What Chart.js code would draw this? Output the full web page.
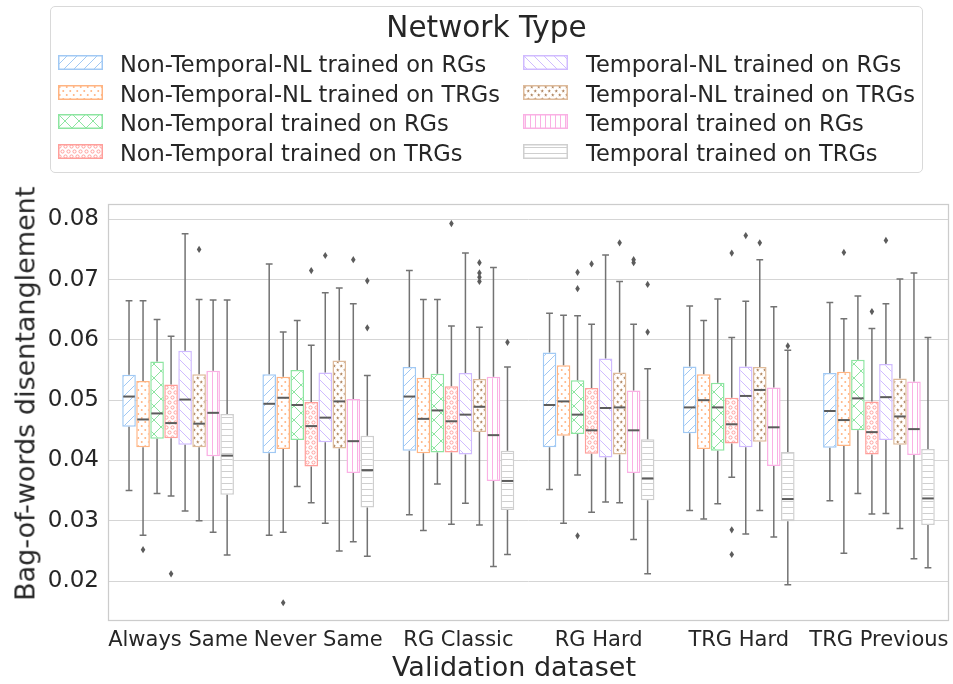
<!DOCTYPE html>
<html>
<head>
<meta charset="utf-8">
<script src="https://cdn.jsdelivr.net/npm/chart.js@4.4.1/dist/chart.umd.min.js"></script>
<style>
  html, body { margin: 0; padding: 0; background: #fff; }
  #wrap { position: relative; width: 953px; height: 684px; font-family: 'DejaVu Sans', sans-serif; color: #262626; overflow: hidden; }
  #chart { position: absolute; left: 0; top: 0; }
  #legendFrame { position: absolute; left: 50px; top: 6px; width: 873px; height: 167px; box-sizing: border-box;
                 border: 1px solid #d9d9d9; border-radius: 5px; background: #fff; }
  .lg { position: absolute; white-space: nowrap; }
  .sw { position: absolute; }
  .axisTitle { position: absolute; white-space: nowrap; font-size: 27px; line-height: 31.4px; }
</style>
</head>
<body>
<div id="wrap">
  <canvas id="chart" width="953" height="684"></canvas>
  <div id="legendFrame"></div>
  <div class="axisTitle" id="xTitle" style="left:392px; top:651px;">Validation dataset</div>
  <div class="axisTitle" id="yTitle">Bag-of-words disentanglement</div>
</div>
<script>
// Validation datasets (x categories)
const categories = ['Always Same', 'Never Same', 'RG Classic', 'RG Hard', 'TRG Hard', 'TRG Previous'];

// Network types (one box per category each)
const seriesNames = [
  'Non-Temporal-NL trained on RGs',
  'Non-Temporal-NL trained on TRGs',
  'Non-Temporal trained on RGs',
  'Non-Temporal trained on TRGs',
  'Temporal-NL trained on RGs',
  'Temporal-NL trained on TRGs',
  'Temporal trained on RGs',
  'Temporal trained on TRGs'
];

// Box statistics, indexed [network type][validation dataset]
const whiskerLow = [
  [0.0350, 0.0276, 0.0310, 0.0352, 0.0317, 0.0333],
  [0.0276, 0.0281, 0.0284, 0.0296, 0.0303, 0.0246],
  [0.0345, 0.0357, 0.0361, 0.0376, 0.0328, 0.0345],
  [0.0341, 0.0330, 0.0294, 0.0314, 0.0372, 0.0311],
  [0.0316, 0.0296, 0.0329, 0.0331, 0.0278, 0.0312],
  [0.0300, 0.0250, 0.0293, 0.0330, 0.0317, 0.0287],
  [0.0281, 0.0265, 0.0224, 0.0269, 0.0273, 0.0237],
  [0.0243, 0.0241, 0.0244, 0.0212, 0.0194, 0.0222]
];
const quartile1 = [
  [0.0456, 0.0412, 0.0416, 0.0422, 0.0445, 0.0421],
  [0.0422, 0.0419, 0.0412, 0.0441, 0.0419, 0.0424],
  [0.0436, 0.0434, 0.0413, 0.0444, 0.0416, 0.0450],
  [0.0437, 0.0390, 0.0413, 0.0411, 0.0428, 0.0410],
  [0.0426, 0.0430, 0.0410, 0.0405, 0.0422, 0.0434],
  [0.0422, 0.0420, 0.0447, 0.0410, 0.0431, 0.0426],
  [0.0407, 0.0379, 0.0366, 0.0379, 0.0391, 0.0409],
  [0.0343, 0.0322, 0.0318, 0.0334, 0.0299, 0.0293]
];
const medians = [
  [0.0506, 0.0494, 0.0506, 0.0492, 0.0488, 0.0482],
  [0.0468, 0.0504, 0.0469, 0.0498, 0.0500, 0.0467],
  [0.0478, 0.0492, 0.0483, 0.0476, 0.0488, 0.0503],
  [0.0462, 0.0457, 0.0465, 0.0450, 0.0460, 0.0447],
  [0.0501, 0.0471, 0.0476, 0.0487, 0.0507, 0.0505],
  [0.0461, 0.0498, 0.0489, 0.0488, 0.0517, 0.0473],
  [0.0479, 0.0432, 0.0442, 0.0450, 0.0455, 0.0452],
  [0.0408, 0.0384, 0.0366, 0.0370, 0.0336, 0.0337]
];
const quartile3 = [
  [0.0542, 0.0543, 0.0555, 0.0579, 0.0556, 0.0545],
  [0.0532, 0.0539, 0.0537, 0.0558, 0.0543, 0.0547],
  [0.0564, 0.0550, 0.0544, 0.0533, 0.0529, 0.0567],
  [0.0526, 0.0497, 0.0523, 0.0520, 0.0504, 0.0498],
  [0.0582, 0.0546, 0.0545, 0.0569, 0.0556, 0.0560],
  [0.0543, 0.0566, 0.0535, 0.0546, 0.0555, 0.0536],
  [0.0549, 0.0502, 0.0539, 0.0516, 0.0521, 0.0531],
  [0.0477, 0.0441, 0.0416, 0.0435, 0.0414, 0.0419]
];
const whiskerHigh = [
  [0.0665, 0.0726, 0.0715, 0.0644, 0.0656, 0.0662],
  [0.0665, 0.0613, 0.0667, 0.0641, 0.0632, 0.0635],
  [0.0634, 0.0632, 0.0667, 0.0640, 0.0668, 0.0673],
  [0.0606, 0.0591, 0.0623, 0.0626, 0.0604, 0.0619],
  [0.0776, 0.0678, 0.0744, 0.0741, 0.0664, 0.0660],
  [0.0667, 0.0686, 0.0621, 0.0697, 0.0733, 0.0701],
  [0.0666, 0.0660, 0.0720, 0.0626, 0.0655, 0.0711],
  [0.0666, 0.0541, 0.0555, 0.0552, 0.0583, 0.0604]
];
const outliers = [
  [[], [], [], [], [], []],
  [[0.0252], [0.0164], [], [], [], [0.0745]],
  [[], [], [], [0.0712, 0.0685, 0.0275], [], []],
  [[0.0212], [0.0715], [0.0793], [0.0726], [0.0744, 0.0285, 0.0244], [0.0647]],
  [[], [0.0740], [], [], [0.0773], [0.0765]],
  [[0.0750], [], [0.0728, 0.0711, 0.0704, 0.0697], [0.0761], [0.0761], []],
  [[], [0.0733], [], [0.0733, 0.0728], [], []],
  [[], [0.0698, 0.0620], [0.0596], [0.0692, 0.0613], [0.0590], []]
];

const yTicks = [0.02, 0.03, 0.04, 0.05, 0.06, 0.07, 0.08];

const palette = ['#a1c9f4', '#ffb482', '#8de5a1', '#ff9f9b', '#d0bbff', '#debb9b', '#fab0e4', '#cfcfcf'];
const hatchKinds = ['/', '.', 'x', 'o', '\\', '*', '|', '-'];
const FONT = "'DejaVu Sans', sans-serif";
const TEXT = '#262626';
const WHISKER = '#737373';
const MEDIAN = '#5c5c5c';

// Build a repeating hatch tile on a white ground
function hatchPattern(kind, color) {
  const t = document.createElement('canvas');
  let w = 10, h = 10;
  if (kind === 'x') { w = h = 14; }
  if (kind === '.' || kind === '*') { w = 7; h = 8; }
  if (kind === 'o') { w = 6; h = 10; }
  if (kind === '|') { w = 5; h = 5; }
  if (kind === '-') { w = 6; h = 6; }
  t.width = w; t.height = h;
  const g = t.getContext('2d');
  g.fillStyle = '#fff';
  g.fillRect(0, 0, w, h);
  g.strokeStyle = color;
  g.fillStyle = color;
  g.lineWidth = 1;
  const ne = () => {
    g.moveTo(0, h); g.lineTo(w, 0);
    g.moveTo(-2, 2); g.lineTo(2, -2);
    g.moveTo(w - 2, h + 2); g.lineTo(w + 2, h - 2);
  };
  const nw = () => {
    g.moveTo(0, 0); g.lineTo(w, h);
    g.moveTo(-2, h - 2); g.lineTo(2, h + 2);
    g.moveTo(w - 2, -2); g.lineTo(w + 2, 2);
  };
  g.beginPath();
  if (kind === '/') ne();
  else if (kind === '\\') nw();
  else if (kind === 'x') { ne(); nw(); }
  else if (kind === '|') { g.moveTo(2.5, 0); g.lineTo(2.5, h); }
  else if (kind === '-') { g.moveTo(0, 3.5); g.lineTo(w, 3.5); }
  g.stroke();
  if (kind === '.') {
    [[1.75, 2], [5.25, 6]].forEach(([cx, cy]) => { g.beginPath(); g.arc(cx, cy, 1, 0, Math.PI * 2); g.fill(); });
  }
  if (kind === 'o') {
    [[1.5, 2.5], [4.5, 7.5]].forEach(([cx, cy]) => {
      g.beginPath(); g.arc(cx, cy, 1.6, 0, Math.PI * 2); g.stroke();
      g.beginPath(); g.arc(cx + (cx < 3 ? w : -w), cy, 1.6, 0, Math.PI * 2); g.stroke();
    });
  }
  if (kind === '*') {
    [[1.75, 2], [5.25, 6]].forEach(([cx, cy]) => {
      g.beginPath();
      for (let k = 0; k < 10; k++) {
        const r = k % 2 ? 0.9 : 2.2;
        const a = -Math.PI / 2 + k * Math.PI / 5;
        const px = cx + r * Math.cos(a), py = cy + r * Math.sin(a);
        k ? g.lineTo(px, py) : g.moveTo(px, py);
      }
      g.closePath();
      g.fill();
      g.fillStyle = '#8a6a4c';
      g.beginPath(); g.arc(cx, cy, 0.7, 0, Math.PI * 2); g.fill();
      g.fillStyle = color;
    });
  }
  return g.createPattern(t, 'repeat');
}

const patterns = palette.map((c, i) => hatchPattern(hatchKinds[i], c));

// Frame around the plotting area
const frame = {
  id: 'frame',
  afterDraw(chart) {
    const { left, top, right, bottom } = chart.chartArea;
    const ctx = chart.ctx;
    ctx.save();
    ctx.strokeStyle = '#cccccc';
    ctx.lineWidth = 1.25;
    ctx.strokeRect(left + 0.5, top + 0.5, right - left - 1, bottom - top - 1);
    ctx.restore();
  }
};

// Whiskers, caps, medians and fliers on top of the quartile boxes
const boxExtras = {
  id: 'boxExtras',
  afterDatasetsDraw(chart) {
    const ctx = chart.ctx;
    const ys = chart.scales.y;
    const py = v => ys.getPixelForValue(v);
    ctx.save();
    chart.data.datasets.forEach((ds, i) => {
      const meta = chart.getDatasetMeta(i);
      meta.data.forEach((bar, j) => {
        const x = bar.x, w = bar.width;
        const cap = w / 4;
        ctx.strokeStyle = WHISKER;
        ctx.lineWidth = 1.5;
        ctx.beginPath();
        ctx.moveTo(x, py(quartile1[i][j])); ctx.lineTo(x, py(whiskerLow[i][j]));
        ctx.moveTo(x - cap, py(whiskerLow[i][j])); ctx.lineTo(x + cap, py(whiskerLow[i][j]));
        ctx.moveTo(x, py(quartile3[i][j])); ctx.lineTo(x, py(whiskerHigh[i][j]));
        ctx.moveTo(x - cap, py(whiskerHigh[i][j])); ctx.lineTo(x + cap, py(whiskerHigh[i][j]));
        ctx.stroke();
        ctx.strokeStyle = MEDIAN;
        ctx.lineWidth = 2;
        ctx.beginPath();
        ctx.moveTo(x - w / 2 + 1, py(medians[i][j])); ctx.lineTo(x + w / 2 - 1, py(medians[i][j]));
        ctx.stroke();
        ctx.fillStyle = MEDIAN;
        outliers[i][j].forEach(v => {
          const yy = py(v);
          ctx.beginPath();
          ctx.moveTo(x, yy - 3.6); ctx.lineTo(x + 2.3, yy); ctx.lineTo(x, yy + 3.6); ctx.lineTo(x - 2.3, yy);
          ctx.closePath();
          ctx.fill();
        });
      });
    });
    ctx.restore();
  }
};

new Chart(document.getElementById('chart'), {
  type: 'bar',
  data: {
    labels: categories,
    datasets: seriesNames.map((name, i) => ({
      label: name,
      data: categories.map((_, j) => [quartile1[i][j], quartile3[i][j]]),
      backgroundColor: patterns[i],
      borderColor: palette[i],
      borderWidth: 1.5,
      borderSkipped: false,
      categoryPercentage: 0.8,
      barPercentage: 0.97
    }))
  },
  options: {
    responsive: false,
    animation: false,
    devicePixelRatio: 1,
    layout: { padding: { top: 204, right: 4, left: 0, bottom: 0 } },
    plugins: { legend: { display: false }, tooltip: { enabled: false } },
    scales: {
      x: {
        grid: { display: false },
        border: { display: false },
        ticks: { color: TEXT, font: { family: FONT, size: 21 }, padding: -1, maxRotation: 0, autoSkip: false },
        afterFit(s) { s.height = 63; }
      },
      y: {
        min: 0.01337,
        max: 0.08254,
        afterBuildTicks(s) { s.ticks = yTicks.map(v => ({ value: v })); },
        grid: { color: '#d5d5d5', lineWidth: 1, drawTicks: false },
        border: { display: false },
        ticks: { color: TEXT, font: { family: FONT, size: 23 }, padding: 9, callback: v => v.toFixed(2) },
        afterFit(s) { s.width = 108; }
      }
    }
  },
  plugins: [frame, boxExtras]
});

// Rotated y-axis title, centred at (25, 393)
(function placeYTitle() {
  const el = document.getElementById('yTitle');
  const w = el.offsetWidth, h = el.offsetHeight;
  el.style.left = (25 - w / 2) + 'px';
  el.style.top = (393 - h / 2) + 'px';
  el.style.transform = 'rotate(-90deg)';
})();

// Legend: title plus two columns of hatched swatches
(function buildLegend() {
  const wrap = document.getElementById('wrap');
  const title = document.createElement('div');
  title.className = 'lg';
  title.textContent = 'Network Type';
  title.style.cssText = 'left:50px;width:873px;text-align:center;top:10px;font-size:29.5px;line-height:34px;';
  wrap.appendChild(title);
  seriesNames.forEach((name, i) => {
    const col = Math.floor(i / 4), row = i % 4;
    const sw = document.createElement('canvas');
    sw.className = 'sw';
    sw.width = 45; sw.height = 15;
    sw.style.left = (col ? 523 : 58) + 'px';
    sw.style.top = (55 + row * 29.6) + 'px';
    const g = sw.getContext('2d');
    g.fillStyle = hatchPattern(hatchKinds[i], palette[i]);
    g.fillRect(0, 0, 45, 15);
    g.strokeStyle = palette[i];
    g.lineWidth = 1.5;
    g.strokeRect(0.75, 0.75, 43.5, 13.5);
    wrap.appendChild(sw);
    const t = document.createElement('div');
    t.className = 'lg';
    t.textContent = name;
    t.style.cssText = `left:${col ? 586 : 120}px;top:${51 + row * 29.6}px;font-size:22.5px;line-height:26px;`;
    wrap.appendChild(t);
  });
})();
</script>
</body>
</html>
